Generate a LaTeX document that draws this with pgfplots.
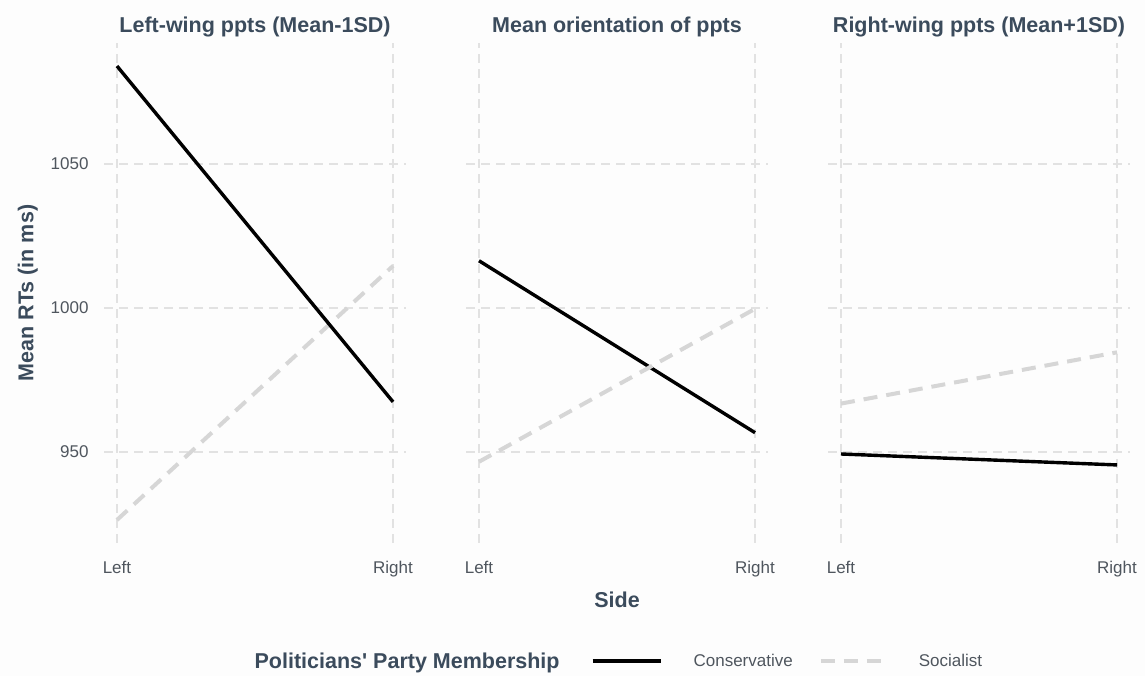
\documentclass[border=0pt]{standalone}
\usepackage{fontspec}
\setmainfont{Liberation Sans}
\usepackage{pgfplots}
\pgfplotsset{compat=1.18}

\definecolor{titlecol}{HTML}{3B4B5C}
\definecolor{tickcol}{HTML}{4F565E}
\definecolor{gridcol}{HTML}{E2E2E2}
\definecolor{soccol}{HTML}{D6D6D6}
\definecolor{bgcol}{HTML}{FDFDFD}

\pgfplotsset{
  panel/.style={
    scale only axis, width=302pt, height=500pt,
    xmin=-0.047, xmax=1.047, ymin=918.4, ymax=1092,
    xtick={0,1}, xticklabels={Left,Right},
    ytick={950,1000,1050},
    grid=major,
    major grid style={gridcol, line width=1.3pt, dash pattern=on 9pt off 6pt},
    axis line style={draw=none},
    major tick length=0pt,
    tick style={draw=none},
    ticklabel style={font=\fontsize{17}{20}\selectfont, text=tickcol},
    /pgf/number format/assume math mode=true,
    /pgf/number format/1000 sep={},
    every axis title/.style={at={(0.5,1)}, anchor=base, yshift=10pt,
      font=\bfseries\fontsize{21.5}{24}\selectfont, text=titlecol},
    xticklabel style={anchor=north, yshift=-15pt},
    yticklabel style={anchor=east, xshift=-12pt},
    label style={font=\bfseries\fontsize{21.5}{24}\selectfont, text=titlecol},
  },
  cons/.style={black, line width=3.4pt, no marks},
  soc/.style={soccol, line width=4pt, no marks, dash pattern=on 14pt off 9pt},
  conskey/.style={legend image code/.code={\draw[##1, line width=4pt] (0pt,0pt) -- (68pt,0pt);}},
  sockey/.style={legend image code/.code={\draw[##1] (0pt,0pt) -- (62pt,0pt);}},
}

\begin{document}
\begin{tikzpicture}
\path[use as bounding box, fill=bgcol] (0pt,0pt) rectangle (1145pt,676pt);

% Panel 1: left-wing participants
\begin{axis}[panel, at={(104pt,133pt)}, anchor=south west,
  title={Left-wing ppts (Mean-1SD)},
  ylabel={Mean RTs (in ms)},
  ylabel style={at={(axis description cs:-0.252,0.5)}, anchor=center}]
\addplot[soc] coordinates {(0,926.4) (1,1014.6)};
\addplot[cons] coordinates {(0,1084.0) (1,967.4)};
\end{axis}

% Panel 2: mean orientation, carries the x label and the legend
\begin{axis}[panel, at={(466pt,133pt)}, anchor=south west,
  title={Mean orientation of ppts},
  yticklabels={},
  xlabel={Side},
  xlabel style={at={(axis description cs:0.5,0)}, anchor=base, yshift=-65pt},
  legend columns=-1,
  legend style={at={(axis description cs:-0.70,-0.236)}, anchor=west,
    draw=none, fill=none, inner sep=0pt, outer sep=0pt, column sep=0pt,
    font=\fontsize{17}{20}\selectfont, text=tickcol,
    nodes={inner sep=0pt}}]
\addlegendimage{empty legend}
\addlegendentry{\bfseries\fontsize{21.5}{24}\selectfont\color{titlecol}Politicians\textquotesingle\ Party Membership\hspace*{31pt}\mbox{}}
\addplot[cons, conskey] coordinates {(0,1016.4) (1,956.7)};
\addlegendentry{\hspace*{31pt}Conservative\hspace*{26pt}\mbox{}}
\addplot[soc, sockey] coordinates {(0,946.6) (1,999.7)};
\addlegendentry{\hspace*{34pt}Socialist}
\end{axis}

% Panel 3: right-wing participants
\begin{axis}[panel, at={(828pt,133pt)}, anchor=south west,
  title={Right-wing ppts (Mean+1SD)},
  yticklabels={}]
\addplot[soc] coordinates {(0,966.8) (1,984.6)};
\addplot[cons] coordinates {(0,949.3) (1,945.5)};
\end{axis}
\end{tikzpicture}
\end{document}
